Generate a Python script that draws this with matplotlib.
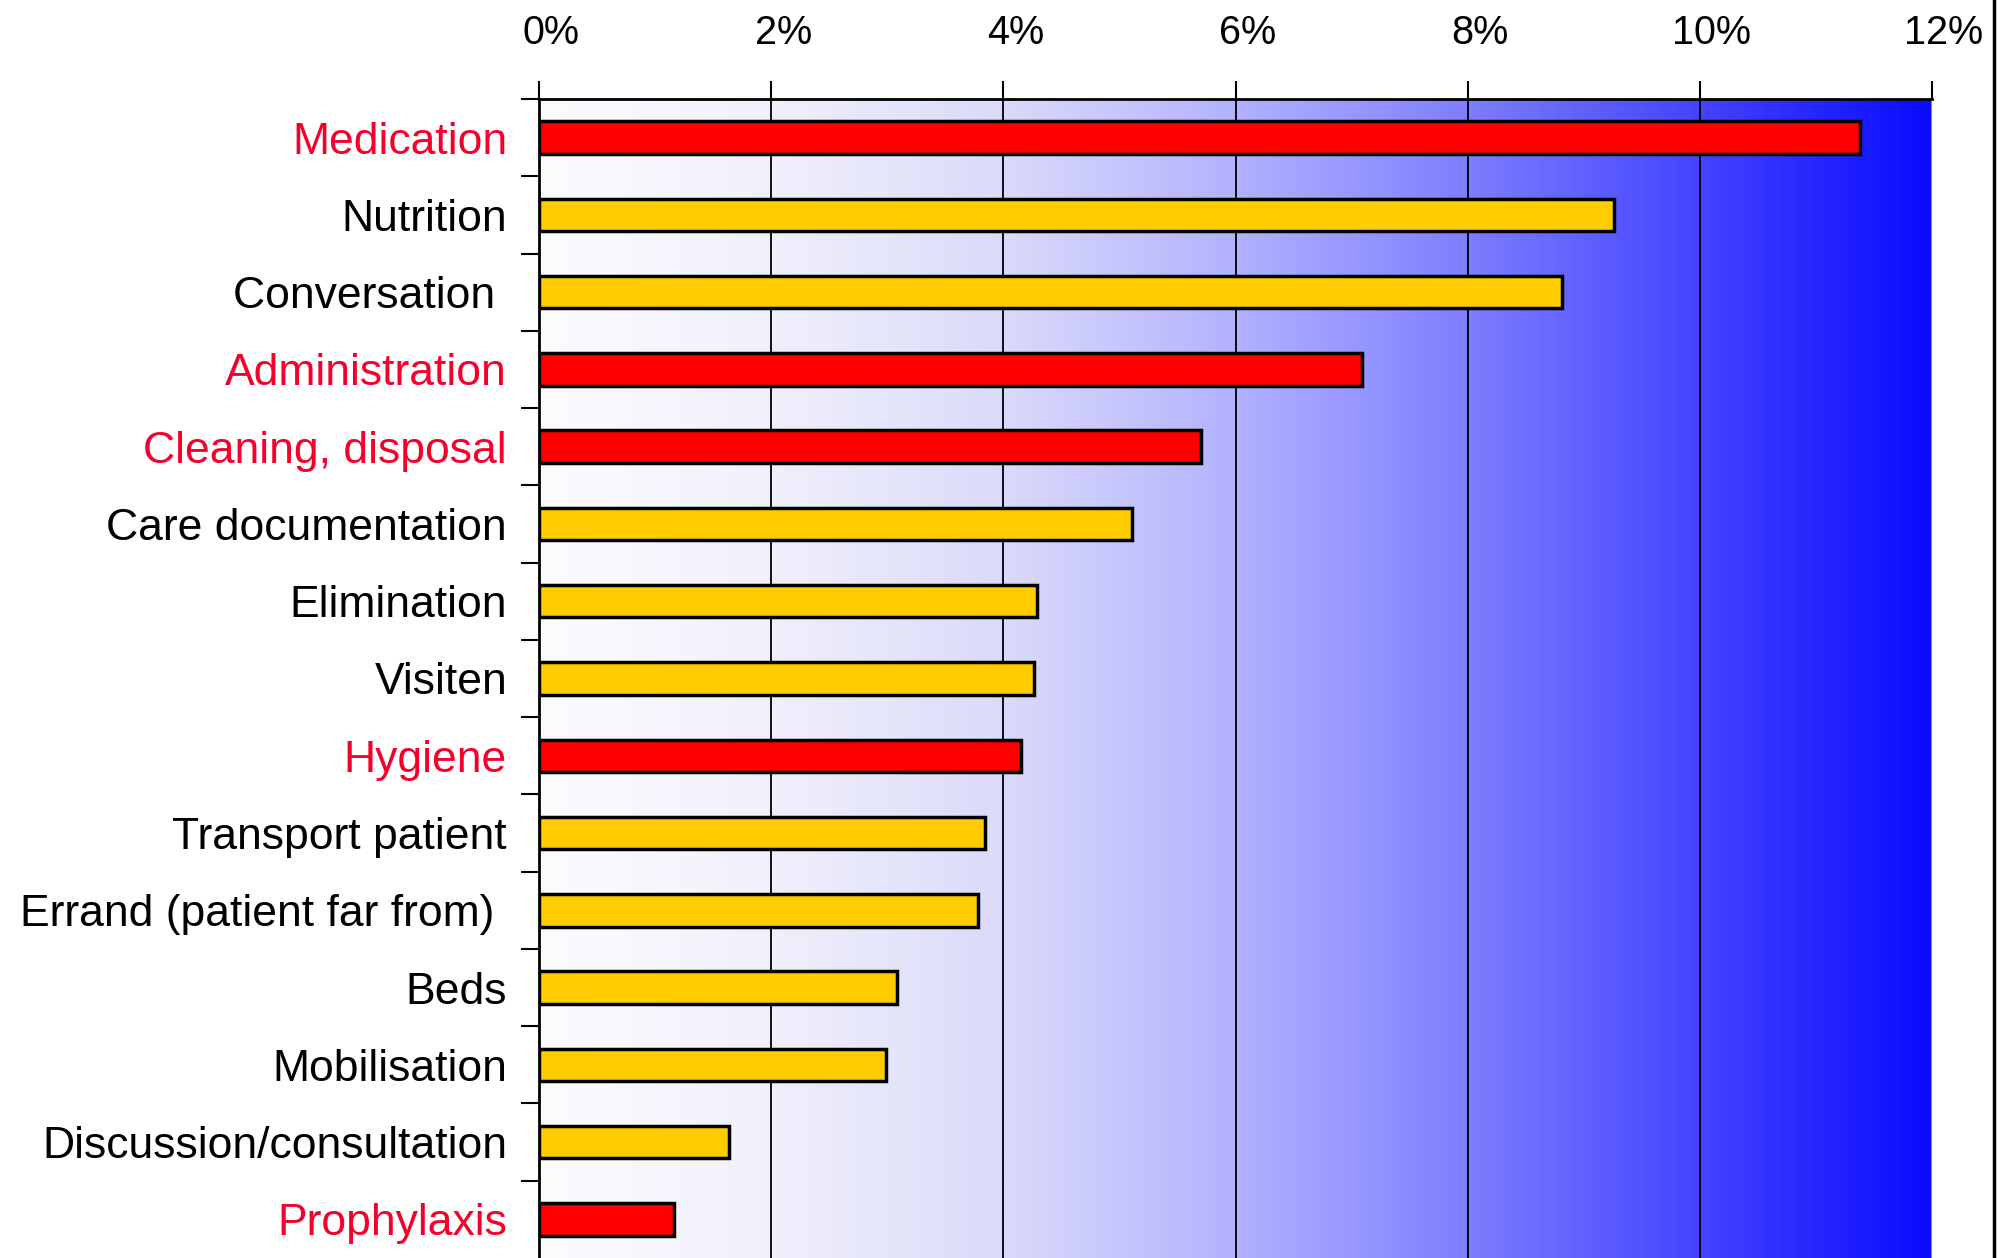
import matplotlib

matplotlib.use("Agg")

import numpy as np
import matplotlib.pyplot as plt
from matplotlib.colors import LinearSegmentedColormap
from matplotlib.lines import Line2D
from matplotlib.transforms import ScaledTranslation

plt.rcParams["font.family"] = ["Liberation Sans", "DejaVu Sans"]

# activities, top to bottom
categories = [
    "Medication", "Nutrition", "Conversation ", "Administration",
    "Cleaning, disposal", "Care documentation", "Elimination", "Visiten",
    "Hygiene", "Transport patient", "Errand (patient far from) ", "Beds",
    "Mobilisation", "Discussion/consultation", "Prophylaxis",
]
shares = [11.38, 9.26, 8.81, 7.09, 5.70, 5.11, 4.29, 4.26, 4.15, 3.84,
          3.78, 3.08, 2.99, 1.64, 1.16]
highlight = [True, False, False, True, True, False, False, False, True,
             False, False, False, False, False, True]
xticks = [0, 2, 4, 6, 8, 10, 12]
xtick_labels = ["0%", "2%", "4%", "6%", "8%", "10%", "12%"]

fig = plt.figure(figsize=(20.08, 12.58), dpi=100)
ax = fig.add_axes([539 / 2008, 0.0, (1932 - 539) / 2008, 1 - 99 / 1258])

n = len(categories)
y = np.arange(n)

# background gradient white -> blue
bg = LinearSegmentedColormap.from_list(
    "bg",
    [(0.0, "#fcfcff"), (2 / 12, "#f0f0fc"), (4 / 12, "#dadafa"),
     (6 / 12, "#b2b2ff"), (8 / 12, "#7e7eff"), (10 / 12, "#4444ff"),
     (1.0, "#0a0aff")],
)
grad = np.linspace(0, 1, 512).reshape(1, -1)
ax.imshow(grad, cmap=bg, aspect="auto", extent=[0, 12, n - 0.5, -0.5],
          zorder=0)

colors = ["#ff0000" if h else "#ffcc00" for h in highlight]
ax.barh(y, shares, height=0.42, color=colors, edgecolor="black",
        linewidth=2.5, zorder=3)

ax.set_xlim(0, 12)
ax.set_ylim(n - 0.5, -0.5)

for xv in xticks[1:-1]:
    ax.axvline(xv, color="black", linewidth=1.3, zorder=1)
ax.axvline(12, color="#888888", linewidth=1.5, zorder=1)

ax.xaxis.tick_top()
ax.set_xticks(xticks)
ax.set_xticklabels(xtick_labels, fontsize=28.5)
ax.tick_params(axis="x", direction="out", length=13, width=1.5, pad=21)
for lbl in ax.get_xticklabels():
    lbl.set_transform(lbl.get_transform() + ScaledTranslation(0.12, 0, fig.dpi_scale_trans))

ax.set_yticks(y)
ax.set_yticklabels(categories, fontsize=32)
ax.tick_params(axis="y", which="major", length=0, pad=23)
ax.set_yticks(np.arange(n) - 0.5, minor=True)
ax.tick_params(axis="y", which="minor", direction="out", length=13, width=1.5)
for lbl, h in zip(ax.get_yticklabels(), highlight):
    lbl.set_color("#f5002a" if h else "black")

for side in ["right", "bottom"]:
    ax.spines[side].set_visible(False)
ax.spines["top"].set_linewidth(2.0)
ax.spines["left"].set_linewidth(2.0)

# frame line at right edge of the picture
fig.add_artist(Line2D([1994 / 2008, 1994 / 2008], [0, 1], color="black",
                      linewidth=2.5, transform=fig.transFigure))

fig.savefig("out.png", dpi=100)
